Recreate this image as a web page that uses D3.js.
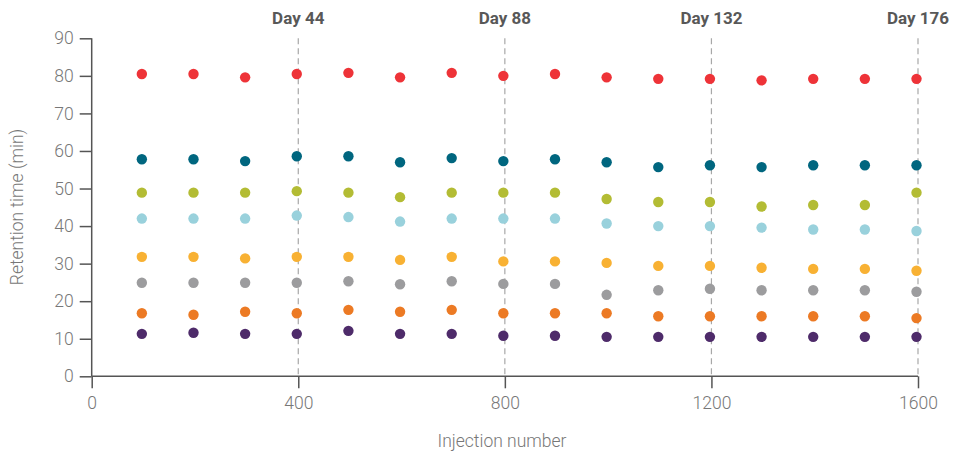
<!DOCTYPE html>
<html><head><meta charset="utf-8">
<script src="https://cdn.jsdelivr.net/npm/d3@7"></script>
<style>
body{margin:0;background:#fff;}
text{font-family:"Helvetica Neue","Roboto","Liberation Sans",sans-serif;}
</style></head>
<body><svg id="c" width="956" height="455"></svg>
<script>
const injections = [100,200,300,400,500,600,700,800,900,1000,1100,1200,1300,1400,1500,1600];
const seriesNames = ["red","teal","olive","lightblue","yellow","gray","orange","purple"];
const seriesColors = ["#EE3338","#00667F","#B3BC34","#99D1DC","#F8B133","#9C9C9E","#EC7A24","#4E2B6A"];
const red       = [80.5,80.5,79.6,80.5,80.8,79.6,80.8,80.0,80.5,79.6,79.2,79.2,78.8,79.2,79.2,79.2];
const teal      = [57.8,57.8,57.3,58.6,58.6,57.0,58.1,57.3,57.8,57.0,55.7,56.2,55.7,56.2,56.2,56.2];
const olive     = [48.9,48.9,48.9,49.3,48.9,47.7,48.9,48.9,48.9,47.2,46.4,46.4,45.2,45.6,45.6,48.9];
const lightblue = [42.0,42.0,42.0,42.8,42.4,41.2,42.0,42.0,42.0,40.7,40.0,40.0,39.6,39.1,39.1,38.7];
const yellow    = [31.8,31.8,31.4,31.8,31.8,31.0,31.8,30.6,30.6,30.2,29.4,29.4,28.9,28.6,28.6,28.1];
const gray      = [24.9,24.9,24.9,24.9,25.3,24.5,25.3,24.6,24.6,21.7,22.9,23.3,22.9,22.9,22.9,22.5];
const orange    = [16.8,16.4,17.2,16.8,17.7,17.2,17.7,16.8,16.8,16.8,16.0,16.0,16.0,16.0,16.0,15.5];
const purple    = [11.3,11.6,11.3,11.3,12.1,11.3,11.3,10.8,10.8,10.5,10.5,10.5,10.5,10.5,10.5,10.5];
const seriesValues = [red,teal,olive,lightblue,yellow,gray,orange,purple];
const markerInjections = [400,800,1200,1600];
const markerLabels = ["Day 44","Day 88","Day 132","Day 176"];
const xTicks = [0,400,800,1200,1600];
const yTicks = [0,10,20,30,40,50,60,70,80,90];

const svg = d3.select("#c");
const x = d3.scaleLinear().domain([0,1600]).range([91.7,918]);
const y = d3.scaleLinear().domain([0,90]).range([376.3,38.3]);

// marker dashed lines
svg.append("g").selectAll("line").data(markerInjections).join("line")
  .attr("x1",d=>x(d)).attr("x2",d=>x(d)).attr("y1",y(90)).attr("y2",y(0))
  .attr("stroke","#A8A8A8").attr("stroke-width",1.2).attr("stroke-dasharray","6,4");
svg.append("g").selectAll("text").data(markerLabels).join("text")
  .attr("x",(d,i)=>x(markerInjections[i])).attr("y",24)
  .attr("text-anchor","middle").attr("font-size",17).attr("font-weight","bold")
  .attr("font-family","'Liberation Sans',Arial,sans-serif")
  .attr("fill","#585858").text(d=>d);

// axes
const axisColor="#555";
const xAxis = svg.append("g").attr("transform",`translate(0,${y(0)})`)
  .call(d3.axisBottom(x).tickValues(xTicks).tickSize(12).tickPadding(8).tickFormat(d3.format("d")));
const yAxis = svg.append("g").attr("transform",`translate(${x(0)},0)`)
  .call(d3.axisLeft(y).tickValues(yTicks).tickSize(12).tickPadding(6));
[xAxis,yAxis].forEach(a=>{
  a.select(".domain").attr("stroke",axisColor).attr("stroke-width",1.5);
  a.selectAll(".tick line").attr("stroke",axisColor).attr("stroke-width",1.5);
  a.selectAll(".tick text").attr("fill","#777").attr("font-size",17.5).attr("font-weight",300)
    .attr("font-family","'Helvetica Neue',Roboto,'Liberation Sans',sans-serif");
});
xAxis.select(".domain").attr("d",`M${x(0)},0H${x(1600)}`);
yAxis.select(".domain").attr("d",`M0,${y(90)}V${y(0)}`);

// axis titles
svg.append("text").attr("x",502).attr("y",447).attr("text-anchor","middle")
  .attr("font-size",17.5).attr("font-weight",300).attr("fill","#777").text("Injection number");
svg.append("text").attr("transform","translate(23,207) rotate(-90)").attr("text-anchor","middle")
  .attr("font-size",17.5).attr("font-weight",300).attr("fill","#777").text("Retention time (min)");

// dots
seriesValues.forEach((vals,si)=>{
  svg.append("g").attr("class","series-"+seriesNames[si]).selectAll("circle")
    .data(vals).join("circle")
    .attr("cx",(d,i)=>x(injections[i])-1.5).attr("cy",d=>y(d)).attr("r",5.2)
    .attr("fill",seriesColors[si]);
});
</script></body></html>
